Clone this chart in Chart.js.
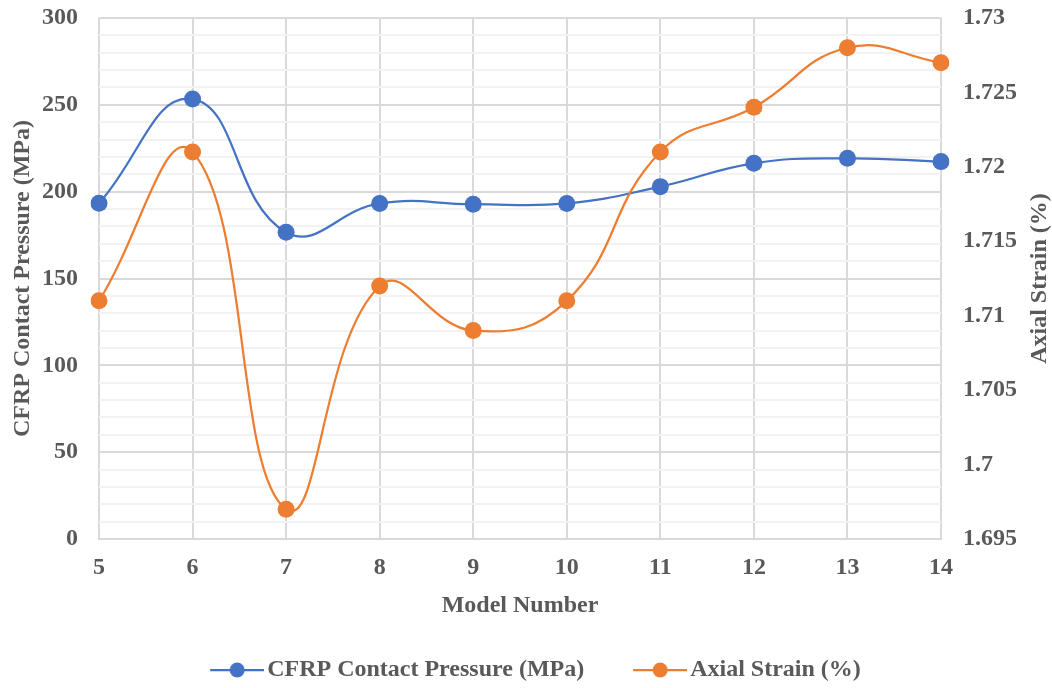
<!DOCTYPE html>
<html>
<head>
<meta charset="utf-8">
<script src="https://cdn.jsdelivr.net/npm/chart.js@4.4.1/dist/chart.umd.min.js"></script>
<style>
  html, body { margin: 0; padding: 0; background: #ffffff; }
  #wrap { width: 1052px; height: 688px; position: relative; }
</style>
</head>
<body>
<div id="wrap"><canvas id="chart" width="1052" height="688"></canvas></div>
<script>
// Model numbers along the x axis
const categories = ['5', '6', '7', '8', '9', '10', '11', '12', '13', '14'];
// CFRP contact pressure per model (MPa), left axis
const contactPressure = [193.3, 253.3, 176.6, 193.2, 192.8, 193.2, 202.9, 216.3, 219.2, 217.3];
// Axial strain per model (%), right axis
const axialStrain = [1.711, 1.721, 1.697, 1.712, 1.709, 1.711, 1.721, 1.724, 1.728, 1.727];

// Axis ranges
const pressureRange = [0, 300];
const pressureMajor = 50;
const pressureMinor = 10;
const strainRange = [1.695, 1.73];
const strainStep = 0.005;

const BLUE = '#4472C4';
const ORANGE = '#ED7D31';
const TEXT = '#595959';
const FONT = "'Liberation Serif', 'Times New Roman', serif";
const FONT_SIZE = 24;

// Legend swatch: short line with a round marker, drawn at the right end
// of a wider transparent image so it sits close to the label text
const SWATCH_BOX = 64;
function legendSwatch(color) {
  const c = document.createElement('canvas');
  c.width = SWATCH_BOX + 18; c.height = 18;
  const g = c.getContext('2d');
  const x0 = c.width - 54;
  g.strokeStyle = color;
  g.lineWidth = 2.25;
  g.beginPath(); g.moveTo(x0, 9); g.lineTo(x0 + 54, 9); g.stroke();
  g.fillStyle = color;
  g.beginPath(); g.arc(x0 + 27, 9, 7.5, 0, Math.PI * 2); g.fill();
  return c;
}

// Right-hand axis title, reading bottom to top
const rightTitle = {
  id: 'rightTitle',
  afterDraw(chart) {
    const { ctx, chartArea } = chart;
    ctx.save();
    ctx.translate(1040, (chartArea.top + chartArea.bottom) / 2);
    ctx.rotate(-Math.PI / 2);
    ctx.font = 'bold ' + FONT_SIZE + 'px ' + FONT;
    ctx.fillStyle = TEXT;
    ctx.textAlign = 'center';
    ctx.textBaseline = 'middle';
    ctx.fillText('Axial Strain (%)', 0, 0);
    ctx.restore();
  }
};

const textFont = { family: FONT, size: FONT_SIZE, weight: 'bold' };

// Vertical axes: fixed width, no extra top/bottom label padding
function fixVertical(width) {
  return (scale) => {
    scale.width = width;
    scale.paddingTop = 0;
    scale.paddingBottom = 0;
  };
}

new Chart(document.getElementById('chart'), {
  type: 'line',
  data: {
    labels: categories,
    datasets: [
      {
        label: 'CFRP Contact Pressure (MPa)',
        data: contactPressure,
        yAxisID: 'yPressure',
        borderColor: BLUE,
        backgroundColor: BLUE,
        borderWidth: 2.25,
        pointRadius: 8.5,
        pointHoverRadius: 8.5,
        pointBorderWidth: 0,
        tension: 0.45,
        order: 1
      },
      {
        label: 'Axial Strain (%)',
        data: axialStrain,
        yAxisID: 'yStrain',
        borderColor: ORANGE,
        backgroundColor: ORANGE,
        borderWidth: 2.25,
        pointRadius: 8.5,
        pointHoverRadius: 8.5,
        pointBorderWidth: 0,
        tension: 0.45,
        order: 0
      }
    ]
  },
  options: {
    responsive: false,
    animation: false,
    layout: { padding: { top: 18, left: 0, right: 0, bottom: -4 } },
    plugins: {
      tooltip: { enabled: false },
      legend: {
        position: 'bottom',
        labels: {
          usePointStyle: true,
          pointStyleWidth: SWATCH_BOX,
          padding: 30,
          color: TEXT,
          font: textFont,
          sort: (a, b) => a.datasetIndex - b.datasetIndex,
          generateLabels(chart) {
            return chart.data.datasets.map((ds, i) => ({
              text: ds.label,
              datasetIndex: i,
              fontColor: TEXT,
              pointStyle: legendSwatch(ds.borderColor),
              lineWidth: 0,
              hidden: false
            }));
          }
        }
      }
    },
    scales: {
      x: {
        type: 'category',
        offset: false,
        grid: { color: '#d9d9d9', lineWidth: 2, drawTicks: false },
        border: { color: '#d9d9d9', width: 2 },
        ticks: {
          color: TEXT,
          padding: 14,
          maxRotation: 0,
          font: textFont
        },
        title: {
          display: true,
          text: 'Model Number',
          color: TEXT,
          padding: { top: 4, bottom: 8 },
          font: textFont
        },
        afterFit(scale) { scale.height = 89; }
      },
      yPressure: {
        position: 'left',
        min: pressureRange[0],
        max: pressureRange[1],
        grid: {
          drawTicks: false,
          lineWidth: 2,
          color: (c) => (c.tick && c.tick.value % pressureMajor === 0) ? '#d9d9d9' : '#f2f2f2'
        },
        border: { display: false },
        ticks: {
          stepSize: pressureMinor,
          autoSkip: false,
          padding: 21,
          color: TEXT,
          font: textFont,
          callback: (v) => (v % pressureMajor === 0 ? String(v) : '')
        },
        title: {
          display: true,
          text: 'CFRP Contact Pressure (MPa)',
          color: TEXT,
          padding: { top: 8, bottom: 0 },
          font: textFont
        },
        afterFit: fixVertical(99)
      },
      yStrain: {
        position: 'right',
        min: strainRange[0],
        max: strainRange[1],
        grid: { drawOnChartArea: false, drawTicks: false },
        border: { display: false },
        ticks: {
          stepSize: strainStep,
          autoSkip: false,
          padding: 22,
          color: TEXT,
          font: textFont,
          callback: (v) => String(+v.toFixed(3))
        },
        afterFit: fixVertical(111)
      }
    }
  },
  plugins: [rightTitle]
});
</script>
</body>
</html>
